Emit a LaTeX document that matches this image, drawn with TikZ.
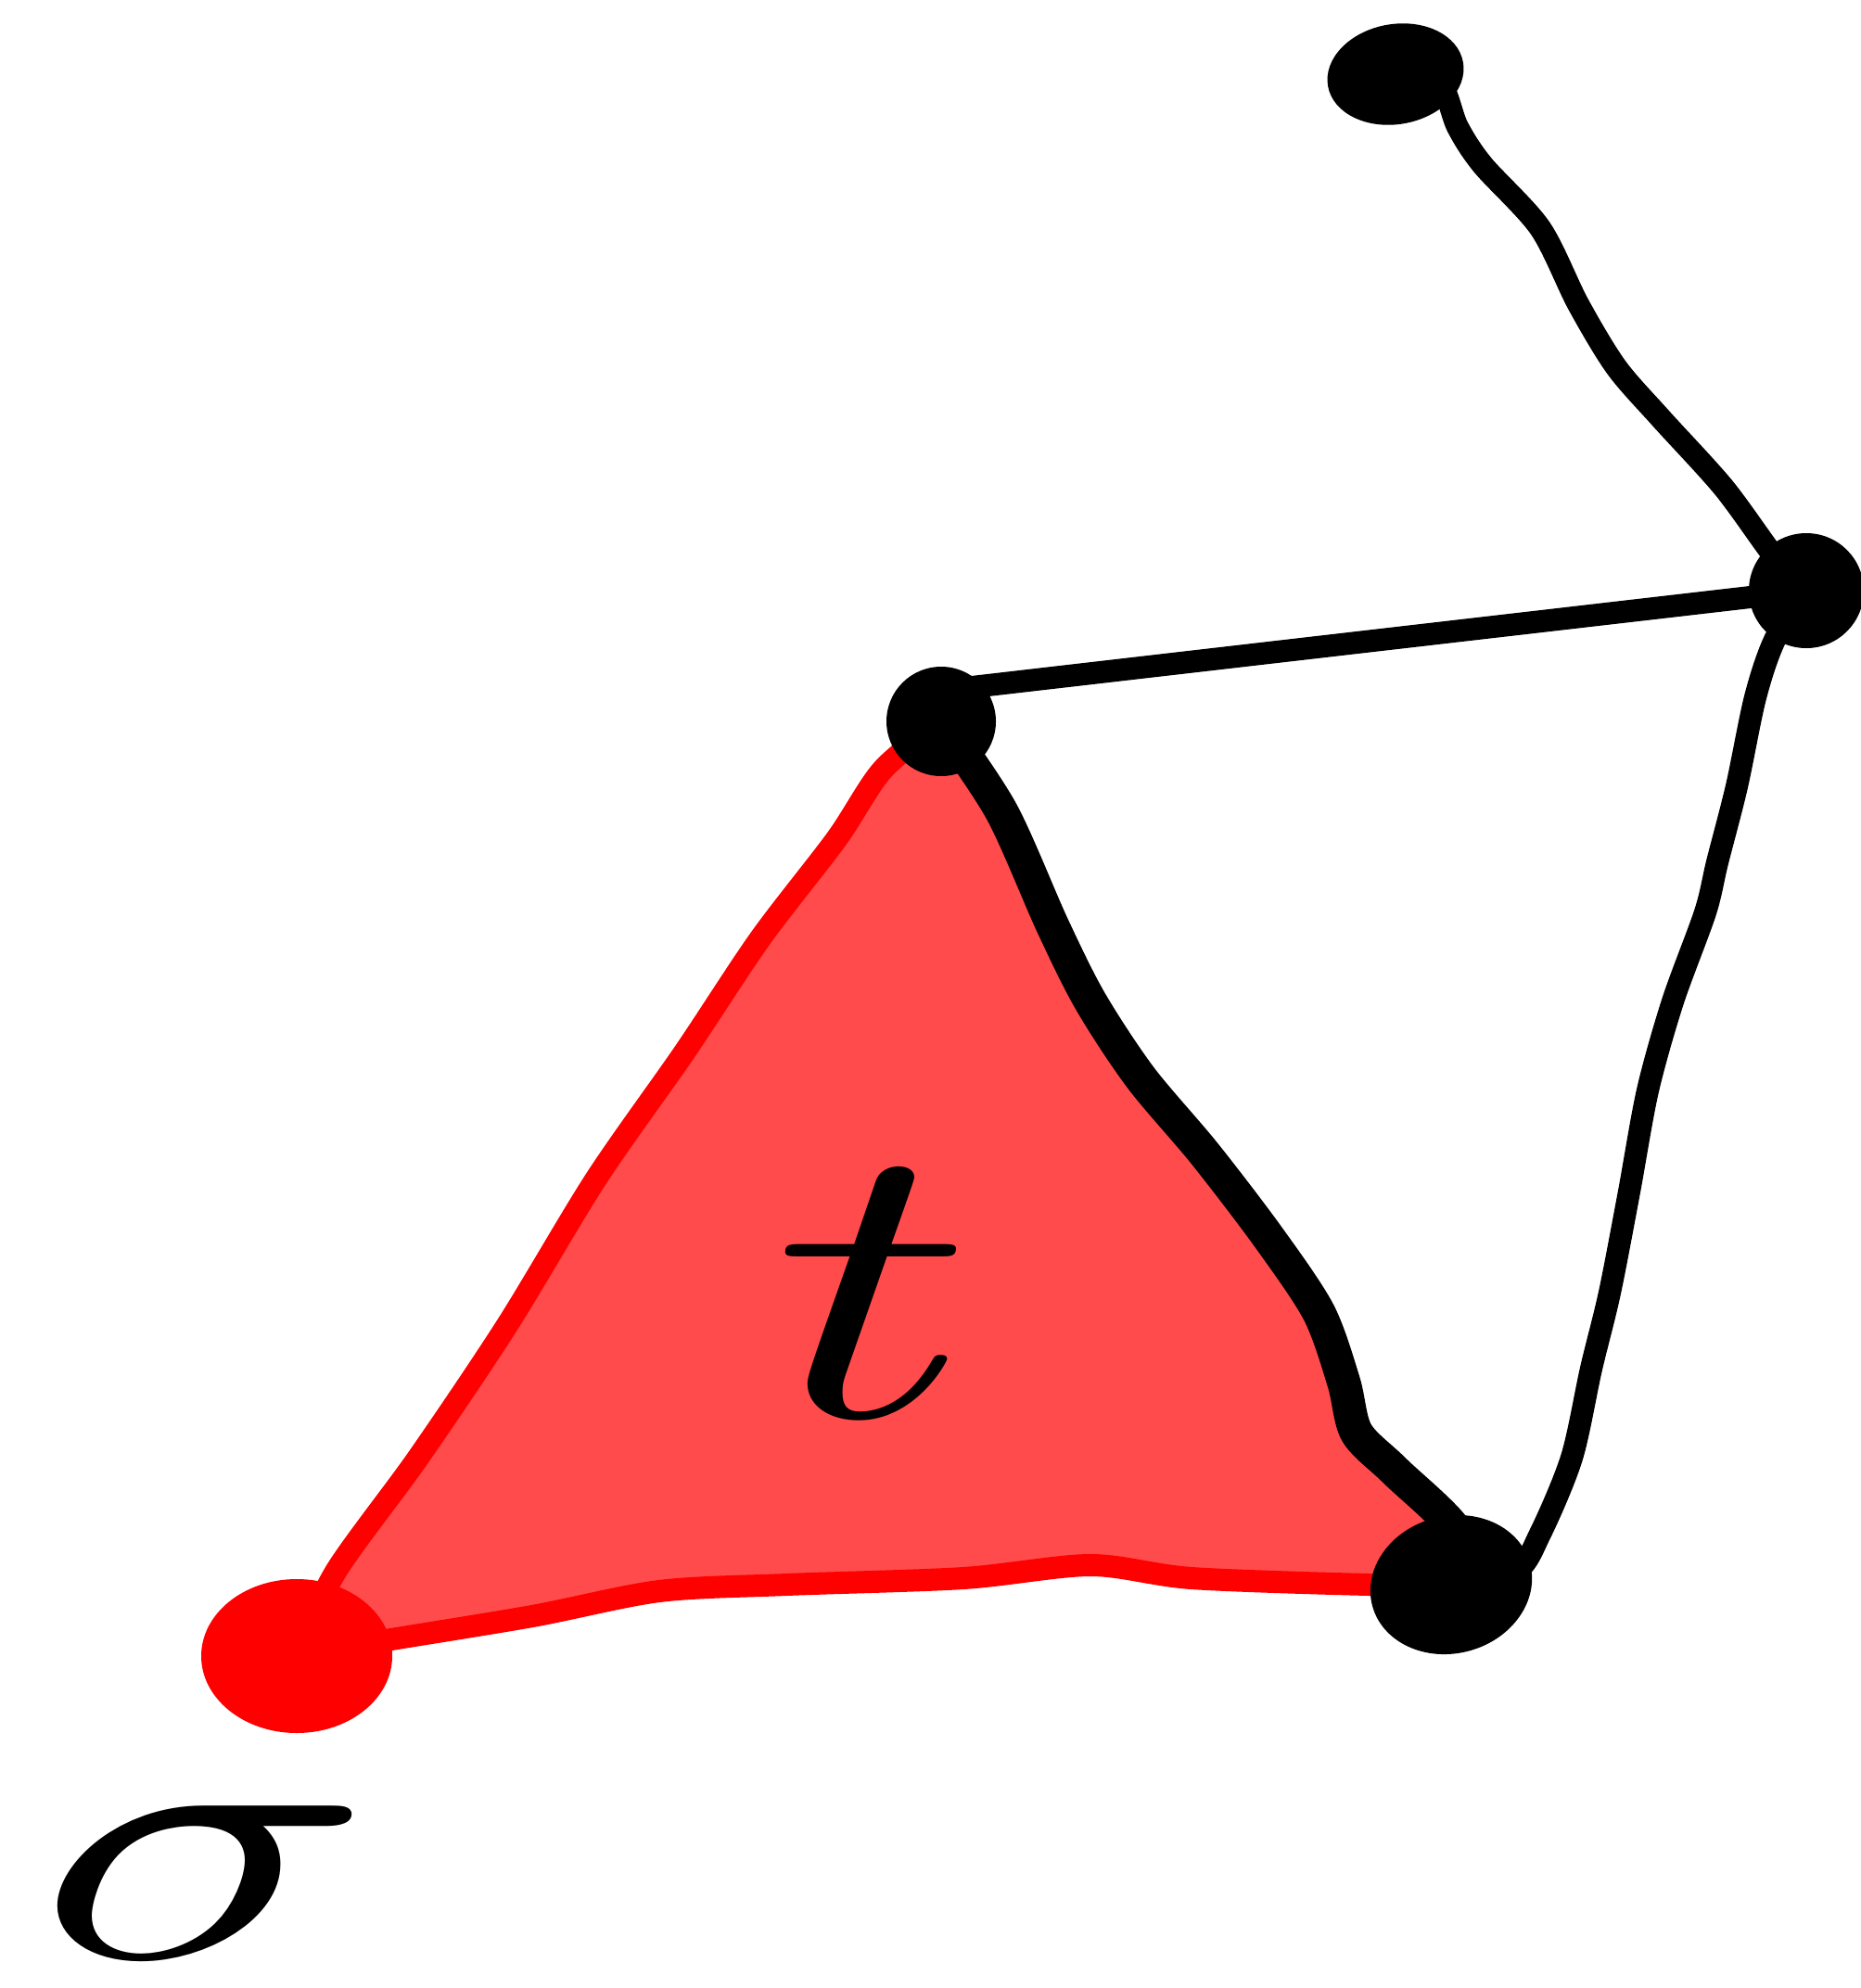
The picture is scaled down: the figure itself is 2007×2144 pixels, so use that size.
\documentclass[tikz,border=0pt]{standalone}
\usetikzlibrary{shapes.geometric,backgrounds}
\definecolor{fillred}{RGB}{255,75,75}
\definecolor{linered}{RGB}{255,0,0}
\begin{document}
\begin{tikzpicture}[x=1pt,y=-1pt,
  blob/.style={ellipse,fill=black,inner sep=0pt},
  redblob/.style={ellipse,fill=linered,inner sep=0pt},
  edge/.style={draw=black,line width=24pt,line cap=round,line join=round},
  thickedge/.style={draw=black,line width=36pt,line cap=round,line join=round},
  redge/.style={draw=linered,line width=24pt,line cap=round,line join=round},
  lab/.style={inner sep=0pt,text=black}]
\useasboundingbox (0,0) rectangle (2007,2144);
% vertices
\node[blob,minimum width=148pt,minimum height=108pt,rotate=10] (A) at (1505,80) {};
\node[blob,minimum width=124pt,minimum height=124pt] (B) at (1948,637) {};
\node[blob,minimum width=118pt,minimum height=118pt] (C) at (1015,778) {};
\node[blob,minimum width=176pt,minimum height=148pt,rotate=15] (D) at (1565,1709) {};
\node[redblob,minimum width=206pt,minimum height=166pt] (E) at (320,1786) {};
% labels
\node[lab,xscale=60,yscale=43] (t) at (942,1395) {$t$};
\node[lab,xscale=60,yscale=38] (s) at (222,2030) {$\sigma$};
\begin{scope}[on background layer]
  % filled triangle
  \fill[fillred] plot[smooth,tension=0.5] coordinates {(E.center) (362,1695) (451,1572) (547,1429) (643,1271) (738,1135) (820,1012) (902,905) (952,830) (C.center)}
    -- plot[smooth,tension=0.5] coordinates {(C.center) (1080,875) (1135,998) (1176,1080) (1230,1162) (1299,1244) (1367,1333) (1422,1415) (1449,1490) (1463,1545) (1504,1586) (1572,1654) (D.center)}
    -- plot[smooth,tension=0.5] coordinates {(D.center) (1476,1709) (1285,1702) (1176,1688) (1039,1702) (848,1709) (711,1716) (574,1743) (410,1770) (E.center)} -- cycle;
  % red edges
  \draw[redge] plot[smooth,tension=0.5] coordinates {(E.center) (362,1695) (451,1572) (547,1429) (643,1271) (738,1135) (820,1012) (902,905) (952,830) (C.center)};
  \draw[redge] plot[smooth,tension=0.5] coordinates {(E.center) (410,1770) (574,1743) (711,1716) (848,1709) (1039,1702) (1176,1688) (1285,1702) (1476,1709) (D.center)};
  % black edges
  \draw[thickedge] plot[smooth,tension=0.5] coordinates {(C.center) (1080,875) (1135,998) (1176,1080) (1230,1162) (1299,1244) (1367,1333) (1422,1415) (1449,1490) (1463,1545) (1504,1586) (1572,1654) (D.center)};
  \draw[edge] (C.north east) ++(-10pt,-5pt) coordinate (c1) (c1) -- (B.center);
  \draw[edge] (C.center) -- (c1);
  \draw[edge] plot[smooth,tension=0.5] coordinates {(A.center) (1552,89) (1572,137) (1599,178) (1661,246) (1702,328) (1743,396) (1791,451) (1859,526) (1914,601) (B.center)};
  \draw[edge] plot[smooth,tension=0.5] coordinates {(B.center) (1914,690) (1893,752) (1873,848) (1852,930) (1839,984) (1804,1080) (1777,1176) (1757,1285) (1736,1394) (1716,1476) (1695,1572) (1661,1654) (1634,1695) (D.center)};
\end{scope}
\end{tikzpicture}
\end{document}
